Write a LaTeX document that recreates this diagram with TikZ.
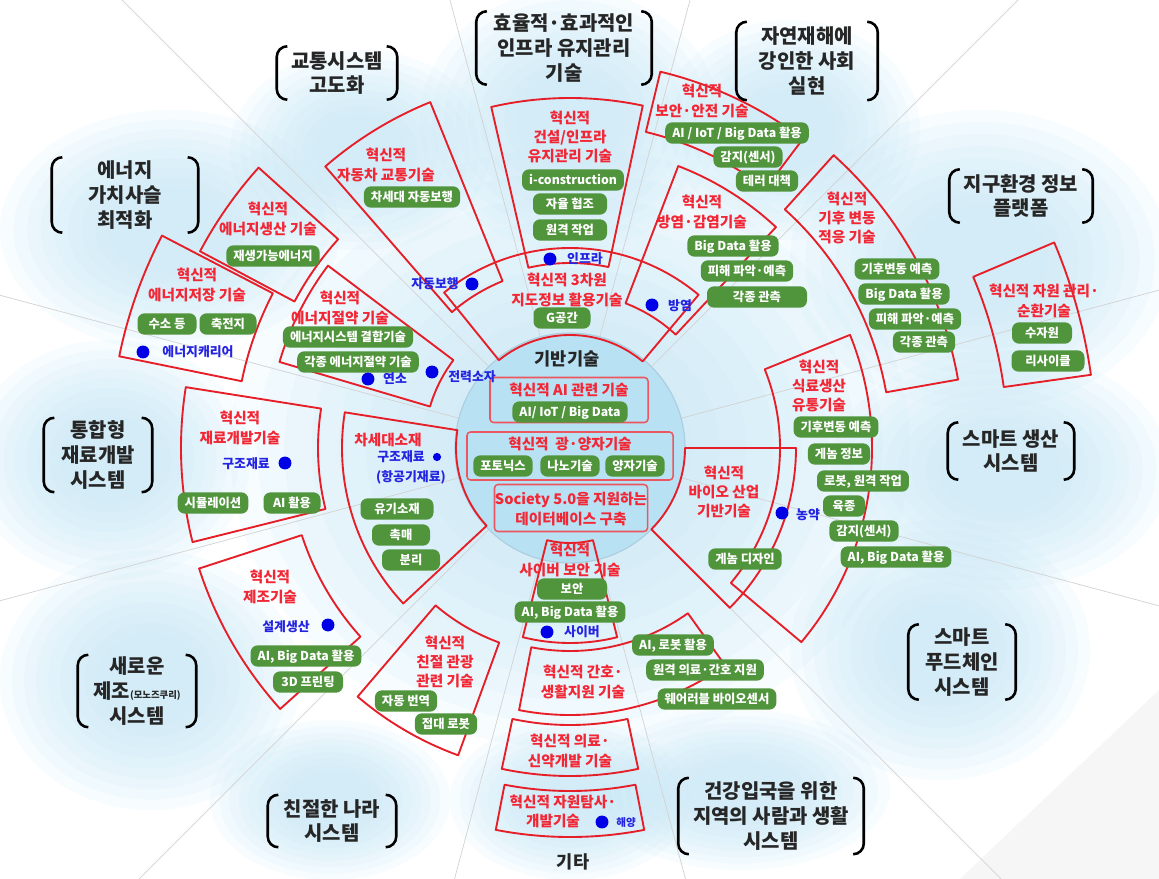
\documentclass[tikz,border=0pt]{standalone}
\usepackage{fontspec}
\setmainfont{Noto Sans CJK KR}
\definecolor{redline}{RGB}{230,30,40}
\definecolor{redtext}{RGB}{242,38,52}
\definecolor{pillgreen}{RGB}{80,148,60}
\definecolor{bluetext}{RGB}{35,35,225}
\definecolor{dotblue}{RGB}{0,0,230}
\definecolor{skyblue}{RGB}{196,231,247}
\definecolor{circblue}{RGB}{184,226,244}
\begin{document}
\begin{tikzpicture}
  [x=0.03cm,y=-0.03cm,
   box/.style={draw=redline,line width=1.6pt,line join=round},
   mid/.style={draw=redline!75,fill=circblue,line width=1.3pt,rounded corners=3pt},
   cat/.style={font=\bfseries\fontsize{17}{21}\selectfont,align=center,text=black!85,inner sep=0},
   lab/.style={font=\bfseries\fontsize{12.5}{16.5}\selectfont,align=center,text=redtext,inner sep=0},
   pill/.style={fill=pillgreen,text=white,rounded corners=6pt,font=\bfseries\fontsize{10.5}{12}\selectfont,
                inner xsep=6pt,inner ysep=3.6pt,text height=9pt,text depth=2pt},
   blu/.style={font=\bfseries\fontsize{11}{13}\selectfont,text=bluetext,inner sep=0},
   dot/.style={circle,fill=dotblue,inner sep=0,minimum size=11pt},
   brk/.style={line width=2.2pt,rounded corners=9pt},
   divider/.style={gray!35,line width=0.6pt}]
  \useasboundingbox (0,0) rectangle (1159,879);

  % background
  \begin{scope}
    \clip (0,0) rectangle (1159,879);
    \fill[white] (0,0) rectangle (1159,879);
    \foreach \x/\y/\rx/\ry in {570/448/340/300, 170/230/170/120, 360/150/130/100, 570/120/150/130,
        790/130/130/110, 980/260/190/150, 1000/470/170/120, 940/650/150/130, 740/790/150/80,
        570/800/120/80, 150/680/150/130, 110/460/140/120, 330/800/120/80}
      \foreach \s in {1,0.92,0.84,0.76,0.68,0.6,0.52,0.44,0.36}
        \fill[skyblue,opacity=0.12] (\x,\y) ellipse[x radius=\s*\rx,y radius=\s*\ry];
    \fill[gray!7] (960,879) -- (1159,690) -- (1159,879) -- cycle;
    \begin{scope}[shift={(570,448)}]
      \foreach \t in {15,45,...,345}
        \draw[divider] (\t:115) -- (\t:800);
    \end{scope}
  \end{scope}

  \node[circle,fill=circblue,draw=circblue!80!gray,line width=1pt,minimum size=6.9cm] (c0) at (570,448) {};

  % sectors
  \begin{scope}[shift={(570,448)}]
    \foreach \ta/\tb/\ra/\rb in {257/282/185/350, 229/248/180/373, 231/310/113/200, 291/313/155/302,
        283.5/307/325/387, 312/350/321/394, 337/352/438/526, 338/400/210/302, 0/45/115/226,
        54.5/101/203/267, 76/104/95/195, 78/102/277/328, 79/101/343/389, 110/130.5/207/327,
        138/162/282/390, 137/189/114/228, 166/189/252/389, 196.5/217/146/303, 191.5/207.5/335/460,
        208/222/312/419}
      \draw[box] (\ta:\ra) arc[start angle=\ta,end angle=\tb,radius=\ra] -- (\tb:\rb)
        arc[start angle=\tb,end angle=\ta,radius=\rb] -- cycle;
  \end{scope}

  % centre
  \node[font=\bfseries\fontsize{15}{18}\selectfont,text=black!85] (m0) at (567,359) {기반기술};
  \node[mid,minimum width=4.74cm,minimum height=1.35cm] (m1) at (569,400) {};
  \node[mid,minimum width=6.18cm,minimum height=1.44cm] (m2) at (570,456) {};
  \node[mid,minimum width=4.59cm,minimum height=1.41cm] (m3) at (571,508) {};
  \node[lab] (r22) at (569,390) {혁신적 AI 관련 기술};
  \node[pill] (p44) at (570,412) {AI/ IoT / Big Data};
  \node[lab] (r23) at (570,444) {혁신적 \ 광·양자기술};
  \node[pill] (p45) at (503,466) {포토닉스};
  \node[pill] (p46) at (570,466) {나노기술};
  \node[pill] (p47) at (635,466) {양자기술};
  \node[lab] (r24) at (571,509) {Society 5.0을 지원하는\\데이터베이스 구축};

  % categories
  \node[cat,minimum width=3.6cm,minimum height=1.59cm] (k1) at (337,73) {교통시스템\\고도화};
  \node[cat,minimum width=5.25cm,minimum height=2.19cm] (k2) at (564,48) {효율적·효과적인\\인프라 유지관리\\기술};
  \node[cat,minimum width=4.23cm,minimum height=2.34cm] (k3) at (807,61) {자연재해에\\강인한 사회\\실현};
  \node[cat,minimum width=4.29cm,minimum height=1.59cm] (k4) at (1021,196) {지구환경 정보\\플랫폼};
  \node[cat,minimum width=4.38cm,minimum height=2.25cm] (k5) at (125,195) {에너지\\가치사슬\\최적화};
  \node[cat,minimum width=3.24cm,minimum height=2.22cm] (k6) at (98,455) {통합형\\재료개발\\시스템};
  \node[cat,minimum width=3.78cm,minimum height=1.71cm] (k7) at (1011,451) {스마트 생산\\시스템};
  \node[cat,minimum width=3.54cm,minimum height=2.16cm] (k8) at (137,691) {새로운\\제조{\fontsize{8}{10}\selectfont(모노즈쿠리)}\\시스템};
  \node[cat,minimum width=3.21cm,minimum height=2.25cm] (k9) at (962,662) {스마트\\푸드체인\\시스템};
  \node[cat,minimum width=3.84cm,minimum height=1.56cm] (k10) at (332,821) {친절한 나라\\시스템};
  \node[cat,minimum width=5.55cm,minimum height=2.28cm] (k11) at (771,816) {건강입국을 위한\\지역의 사람과 생활\\시스템};
  \node[cat,font=\bfseries\fontsize{15}{18}\selectfont] (k12) at (573,862) {기타};
  \foreach \k in {k1,k2,k3,k4,k5,k6,k7,k8,k9,k10,k11}{
    \draw[brk] ([xshift=9pt]\k.north west) -- (\k.north west) -- (\k.south west) -- ([xshift=9pt]\k.south west);
    \draw[brk] ([xshift=-9pt]\k.north east) -- (\k.north east) -- (\k.south east) -- ([xshift=-9pt]\k.south east);
  }

  % red labels
  \node[lab] (r1) at (570,137) {혁신적\\건설/인프라\\유지관리 기술};
  \node[lab] (r2) at (386,165) {혁신적\\자동차 교통기술};
  \node[lab] (r3) at (702,101) {혁신적\\보안·안전 기술};
  \node[lab] (r4) at (702,212) {혁신적\\방염·감염기술};
  \node[lab] (r5) at (567,290) {혁신적 3차원\\지도정보 활용기술};
  \node[lab] (r6) at (847,218) {혁신적\\기후 변동\\적응 기술};
  \node[lab] (r7) at (1044,301) {혁신적 자원 관리·\\순환기술};
  \node[lab] (r8) at (268,219) {혁신적\\에너지생산 기술};
  \node[lab] (r9) at (197,285) {혁신적\\에너지저장 기술};
  \node[lab] (r10) at (340,308) {혁신적\\에너지절약 기술};
  \node[lab] (r11) at (240,428) {혁신적\\재료개발기술};
  \node[lab] (r12) at (388,440) {차세대소재};
  \node[lab] (r13) at (270,587) {혁신적\\제조기술};
  \node[lab] (r14) at (445,662) {혁신적\\친절 관광\\관련 기술};
  \node[lab] (r15) at (570,560) {혁신적\\사이버 보안 기술};
  \node[lab] (r16) at (583,682) {혁신적 간호·\\생활지원 기술};
  \node[lab] (r17) at (570,751) {혁신적 의료·\\신약개발 기술};
  \node[lab] (r18) at (563,802) {혁신적 자원탐사·};
  \node[lab] (r19) at (553,821) {개발기술};
  \node[lab] (r20) at (819,386) {혁신적\\식료생산\\유통기술};
  \node[lab] (r21) at (724,492) {혁신적\\바이오 산업\\기반기술};

  % green items
  \node[pill,minimum width=2.79cm] (p1) at (573,180) {i-construction};
  \node[pill,minimum width=2.22cm] (p2) at (570,204) {자율 협조};
  \node[pill,minimum width=2.22cm] (p3) at (570,230) {원격 작업};
  \node[pill] (p4) at (412,197) {차세대 자동보행};
  \node[pill] (p5) at (737,133) {AI / IoT / Big Data 활용};
  \node[pill] (p6) at (748,157) {감지(센서)};
  \node[pill] (p7) at (767,181) {테러 대책};
  \node[pill] (p8) at (733,246) {Big Data 활용};
  \node[pill] (p9) at (747,271) {피해 파악·예측};
  \node[pill,minimum width=3cm] (p10) at (757,297) {각종 관측};
  \node[pill,minimum width=1.71cm] (p11) at (562,318) {G공간};
  \node[pill] (p12) at (897,269) {기후변동 예측};
  \node[pill] (p13) at (904,294) {Big Data 활용};
  \node[pill] (p14) at (915,319) {피해 파악·예측};
  \node[pill] (p15) at (924,342) {각종 관측};
  \node[pill,minimum width=1.8cm] (p16) at (1042,333) {수자원};
  \node[pill,minimum width=2.19cm] (p17) at (1048,361) {리사이클};
  \node[pill] (p18) at (273,256) {재생가능에너지};
  \node[pill,minimum width=1.77cm] (p19) at (167,324) {수소 등};
  \node[pill,minimum width=1.71cm] (p20) at (228,324) {축전지};
  \node[pill] (p21) at (348,337) {에너지시스템 결합기술};
  \node[pill] (p22) at (358,362) {각종 에너지절약 기술};
  \node[pill] (p23) at (213,503) {시뮬레이션};
  \node[pill,minimum width=1.71cm] (p24) at (292,503) {AI 활용};
  \node[pill,minimum width=2.19cm] (p25) at (397,509) {유기소재};
  \node[pill,minimum width=1.74cm] (p26) at (401,535) {촉매};
  \node[pill,minimum width=1.74cm] (p27) at (411,560) {분리};
  \node[pill] (p28) at (306,656) {AI, Big Data 활용};
  \node[pill,minimum width=2.1cm] (p29) at (308,682) {3D 프린팅};
  \node[pill] (p30) at (406,701) {자동 번역};
  \node[pill] (p31) at (446,724) {접대 로봇};
  \node[pill,minimum width=2.1cm] (p32) at (572,589) {보안};
  \node[pill] (p33) at (570,612) {AI, Big Data 활용};
  \node[pill] (p34) at (673,645) {AI, 로봇 활용};
  \node[pill] (p35) at (705,670) {원격 의료·간호 지원};
  \node[pill] (p36) at (717,699) {웨어러블 바이오센서};
  \node[pill] (p37) at (836,427) {기후변동 예측};
  \node[pill] (p38) at (839,454) {게놈 정보};
  \node[pill] (p39) at (863,481) {로봇, 원격 작업};
  \node[pill,minimum width=1.26cm] (p40) at (844,506) {육종};
  \node[pill] (p41) at (864,531) {감지(센서)};
  \node[pill] (p42) at (896,557) {AI, Big Data 활용};
  \node[pill] (p43) at (745,559) {게놈 디자인};

  % blue items
  \node[dot] (d1) at (550,259) {};
  \node[blu] (b1) at (585,259) {인프라};
  \node[dot] (d2) at (472,284) {};
  \node[blu] (b2) at (435,284) {자동보행};
  \node[dot] (d3) at (652,305) {};
  \node[blu] (b3) at (680,306) {방염};
  \node[dot] (d4) at (143,352) {};
  \node[blu] (b4) at (198,352) {에너지캐리어};
  \node[dot] (d5) at (368,379) {};
  \node[blu] (b5) at (395,379) {연소};
  \node[dot] (d6) at (432,372) {};
  \node[blu] (b6) at (472,377) {전력소자};
  \node[dot] (d7) at (285,463) {};
  \node[blu] (b7) at (246,464) {구조재료};
  \node[dot,minimum size=7pt] (d8) at (437,457) {};
  \node[blu] (b8) at (401,457) {구조재료};
  \node[blu] (b9) at (411,477) {(항공기재료)};
  \node[dot] (d10) at (328,625) {};
  \node[blu] (b10) at (286,627) {설계생산};
  \node[dot] (d11) at (547,632) {};
  \node[blu] (b11) at (582,632) {사이버};
  \node[dot] (d12) at (602,822) {};
  \node[blu,font=\bfseries\fontsize{9}{11}\selectfont] (b12) at (626,823) {해양};
  \node[dot] (d13) at (782,513) {};
  \node[blu] (b13) at (808,515) {농약};
\end{tikzpicture}
\end{document}
